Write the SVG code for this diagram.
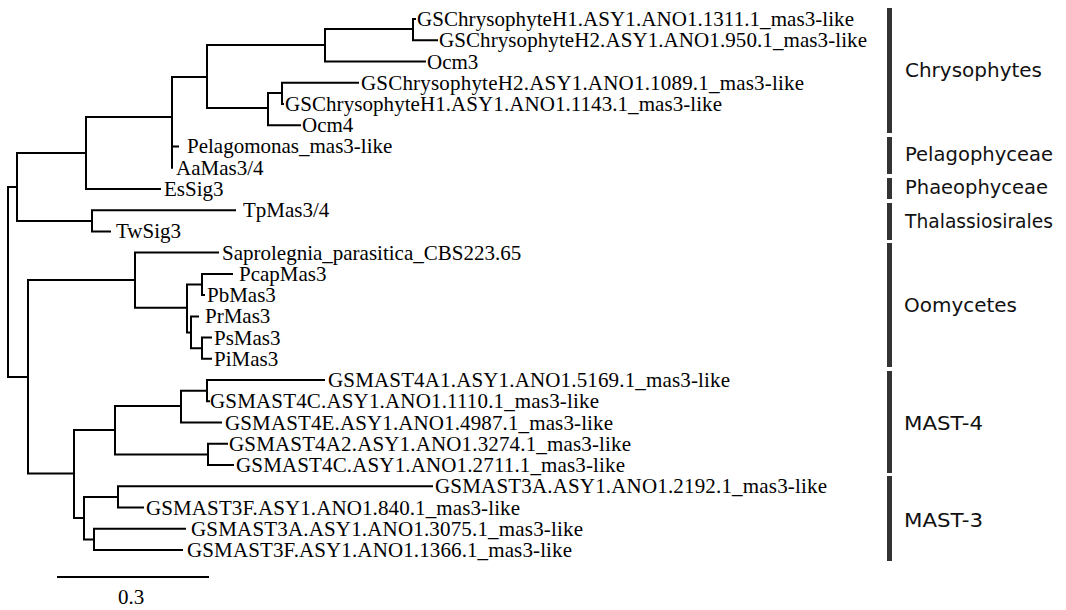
<svg xmlns="http://www.w3.org/2000/svg" width="1066" height="610" viewBox="0 0 1066 610">
<style>
.br{fill:none;stroke:#000;stroke-width:2;stroke-linecap:square}
.lf{font-family:"Liberation Serif","Times New Roman",serif;font-size:21px;fill:#000}
.cl{font-family:"DejaVu Sans",Verdana,sans-serif;font-size:20px;fill:#111}
.bar{fill:#333}
</style>
<rect width="1066" height="610" fill="#fff"/>
<g id="connectors" class="br">
<path d="M8,187V377M8,187H17M8,377H28"/>
<path d="M17,153V221M17,153H86M17,221H92"/>
<path d="M86,117V189M86,117H172M86,189H160"/>
<path d="M172,77V167.7M172,77H207M172,146.4H178"/>
<path d="M207,45V108M207,45H325M207,108H268"/>
<path d="M325,29V61.5M325,29H413M325,61.5H425"/>
<path d="M413,19V40.2M413,19H415M413,40.2H437"/>
<path d="M268,93V125.2M268,93H282M268,125.2H300"/>
<path d="M282,82.7V104M282,82.7H358M282,104H283"/>
<path d="M92,210.2V231.4M92,210.2H235M92,231.4H110"/>
<path d="M28,280V473.5M28,280H135M28,473.5H74"/>
<path d="M135,252.6V307.7M135,252.6H218M135,307.7H187"/>
<path d="M187,284.5V332.4M187,284.5H202M187,332.4H191"/>
<path d="M202,273.9V295.1M202,273.9H232M202,295.1H204"/>
<path d="M191,316.4V348.2M191,316.4H198M191,348.2H202"/>
<path d="M202,337.6V358.8M202,337.6H211M202,358.8H211"/>
<path d="M74,430V518M74,430H115M74,518H84"/>
<path d="M115,406V454.4M115,406H181M115,454.4H208"/>
<path d="M181,390.7V422.6M181,390.7H207M181,422.6H221"/>
<path d="M207,380.1V401.3M207,380.1H324M207,401.3H209"/>
<path d="M208,443.8V465M208,443.8H227M208,465H233"/>
<path d="M84,496.9V539.4M84,496.9H118M84,539.4H94"/>
<path d="M118,486.3V507.5M118,486.3H432M118,507.5H143"/>
<path d="M94,528.8V550M94,528.8H185M94,550H182"/>
<path d="M58,577H208"/>
</g>
<g id="leaves" class="lf">
<g id="n-h1-1311"><text x="417" y="26" textLength="437">GSChrysophyteH1.ASY1.ANO1.1311.1_mas3-like</text></g>
<g id="n-h2-950"><text x="439" y="47.2" textLength="428">GSChrysophyteH2.ASY1.ANO1.950.1_mas3-like</text></g>
<g id="n-ocm3"><text x="427" y="68.5">Ocm3</text></g>
<g id="n-h2-1089"><text x="361" y="89.7" textLength="443">GSChrysophyteH2.ASY1.ANO1.1089.1_mas3-like</text></g>
<g id="n-h1-1143"><text x="285" y="111" textLength="437">GSChrysophyteH1.ASY1.ANO1.1143.1_mas3-like</text></g>
<g id="n-ocm4"><text x="302" y="132.2">Ocm4</text></g>
<g id="n-pelag"><text x="187" y="153.4">Pelagomonas_mas3-like</text></g>
<g id="n-aamas"><text x="176" y="174.7">AaMas3/4</text></g>
<g id="n-essig"><text x="164" y="195.9">EsSig3</text></g>
<g id="n-tpmas"><text x="243" y="217.2">TpMas3/4</text></g>
<g id="n-twsig"><text x="116" y="238.4">TwSig3</text></g>
<g id="n-sapro"><text x="222" y="259.6">Saprolegnia_parasitica_CBS223.65</text></g>
<g id="n-pcap"><text x="239" y="280.9">PcapMas3</text></g>
<g id="n-pb"><text x="207" y="302.1">PbMas3</text></g>
<g id="n-pr"><text x="205" y="323.4">PrMas3</text></g>
<g id="n-ps"><text x="214" y="344.6">PsMas3</text></g>
<g id="n-pi"><text x="214" y="365.8">PiMas3</text></g>
<g id="n-4a1"><text x="328" y="387.1" textLength="402">GSMAST4A1.ASY1.ANO1.5169.1_mas3-like</text></g>
<g id="n-4c1110"><text x="210" y="408.3" textLength="389">GSMAST4C.ASY1.ANO1.1110.1_mas3-like</text></g>
<g id="n-4e"><text x="225" y="429.6" textLength="388">GSMAST4E.ASY1.ANO1.4987.1_mas3-like</text></g>
<g id="n-4a2"><text x="229" y="450.8" textLength="402">GSMAST4A2.ASY1.ANO1.3274.1_mas3-like</text></g>
<g id="n-4c2711"><text x="236" y="472" textLength="389">GSMAST4C.ASY1.ANO1.2711.1_mas3-like</text></g>
<g id="n-3a2192"><text x="435" y="493.3" textLength="392">GSMAST3A.ASY1.ANO1.2192.1_mas3-like</text></g>
<g id="n-3f840"><text x="146" y="514.5" textLength="374">GSMAST3F.ASY1.ANO1.840.1_mas3-like</text></g>
<g id="n-3a3075"><text x="191" y="535.8" textLength="392">GSMAST3A.ASY1.ANO1.3075.1_mas3-like</text></g>
<g id="n-3f1366"><text x="187" y="557" textLength="385">GSMAST3F.ASY1.ANO1.1366.1_mas3-like</text></g>
<g id="scale-label"><text x="131" y="604" text-anchor="middle">0.3</text></g>
</g>
<g id="clades">
<g id="c-chryso"><rect class="bar" x="887" y="8" width="5" height="125"/><text class="cl" x="905" y="77" textLength="137" lengthAdjust="spacingAndGlyphs">Chrysophytes</text></g>
<g id="c-pelago"><rect class="bar" x="887" y="137" width="5" height="37"/><text class="cl" x="905" y="161" textLength="148" lengthAdjust="spacingAndGlyphs">Pelagophyceae</text></g>
<g id="c-phaeo"><rect class="bar" x="887" y="178" width="5" height="21"/><text class="cl" x="905" y="194" textLength="143" lengthAdjust="spacingAndGlyphs">Phaeophyceae</text></g>
<g id="c-thal"><rect class="bar" x="887" y="203" width="5" height="37"/><text class="cl" x="905" y="228" textLength="148" lengthAdjust="spacingAndGlyphs">Thalassiosirales</text></g>
<g id="c-oomy"><rect class="bar" x="887" y="243" width="5" height="124"/><text class="cl" x="904" y="312" textLength="113" lengthAdjust="spacingAndGlyphs">Oomycetes</text></g>
<g id="c-mast4"><rect class="bar" x="887" y="371" width="5" height="102"/><text class="cl" x="904" y="430" textLength="79" lengthAdjust="spacingAndGlyphs">MAST-4</text></g>
<g id="c-mast3"><rect class="bar" x="887" y="476" width="5" height="85"/><text class="cl" x="904" y="527" textLength="79" lengthAdjust="spacingAndGlyphs">MAST-3</text></g>
</g>
</svg>
